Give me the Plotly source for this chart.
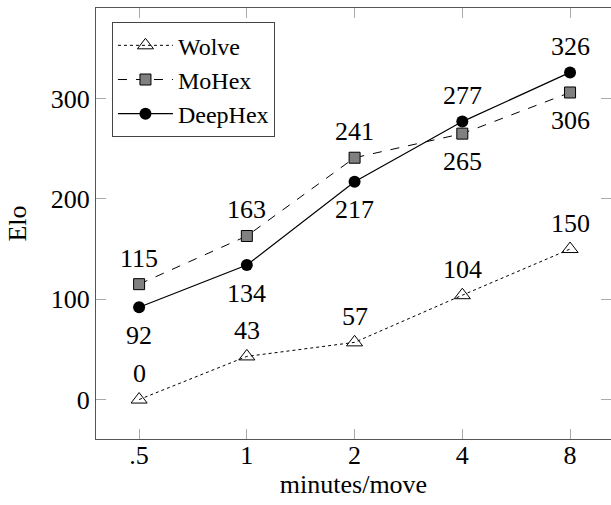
import plotly.graph_objects as go

categories = [".5", "1", "2", "4", "8"]
wolve = [0, 43, 57, 104, 150]
mohex = [115, 163, 241, 265, 306]
deephex = [92, 134, 217, 277, 326]
# label placement relative to the point
wolve_pos = ["above"] * 5
mohex_pos = ["above", "above", "above", "below", "below"]
deephex_pos = ["below", "below", "below", "above", "above"]
y_ticks = [0, 100, 200, 300]

FONT = "Liberation Serif, Times New Roman, serif"
FS = 26

fig = go.Figure()
fig.add_trace(go.Scatter(
    x=categories, y=wolve, name="Wolve", mode="lines+markers",
    line=dict(color="black", width=1, dash="dot"),
    marker=dict(symbol="triangle-up-open", size=14, color="black", line=dict(width=1))))
fig.add_trace(go.Scatter(
    x=categories, y=mohex, name="MoHex", mode="lines+markers",
    line=dict(color="black", width=1, dash="dash"),
    marker=dict(symbol="square", size=11, color="#808080", line=dict(color="black", width=1))))
fig.add_trace(go.Scatter(
    x=categories, y=deephex, name="DeepHex", mode="lines+markers",
    line=dict(color="black", width=1.2),
    marker=dict(symbol="circle", size=12, color="black")))

for vals, pos in [(wolve, wolve_pos), (mohex, mohex_pos), (deephex, deephex_pos)]:
    for i, (v, p) in enumerate(zip(vals, pos)):
        fig.add_annotation(x=i, xref="x", y=v, yref="y", text=str(v), showarrow=False,
                           yshift=26 if p == "above" else -28,
                           font=dict(family=FONT, size=FS, color="black"))

fig.update_layout(
    width=611, height=505,
    margin=dict(l=96, r=0, t=8, b=66),
    paper_bgcolor="white", plot_bgcolor="white",
    font=dict(family=FONT, size=FS, color="black"),
    showlegend=True,
    legend=dict(x=0.031, y=0.967, xanchor="left", yanchor="top",
                bordercolor="#444", borderwidth=1, bgcolor="white",
                font=dict(family=FONT, size=24), tracegroupgap=0,
                itemwidth=55),
)
fig.update_xaxes(
    type="category", range=[-0.4, 4.38], automargin=False,
    showline=True, linecolor="#555", linewidth=1.3, mirror="ticks",
    ticks="inside", ticklen=10, tickcolor="#aaa", tickwidth=1,
    showgrid=False, zeroline=False,
    ticklabelstandoff=-7,
    title=dict(text="minutes/move", font=dict(family=FONT, size=FS), standoff=5),
)
fig.update_yaxes(
    range=[-39.3, 390.2], tickvals=y_ticks, automargin=False,
    showline=True, linecolor="#555", linewidth=1.3, mirror="ticks",
    ticks="inside", ticklen=10, tickcolor="#aaa", tickwidth=1,
    showgrid=False, zeroline=False,
    ticklabelstandoff=0,
    title=dict(text="Elo", font=dict(family=FONT, size=FS), standoff=16),
)

fig.write_html("out.html", config={"displayModeBar": False},
               post_script="document.body.style.margin='0';document.body.style.overflow='hidden';")
